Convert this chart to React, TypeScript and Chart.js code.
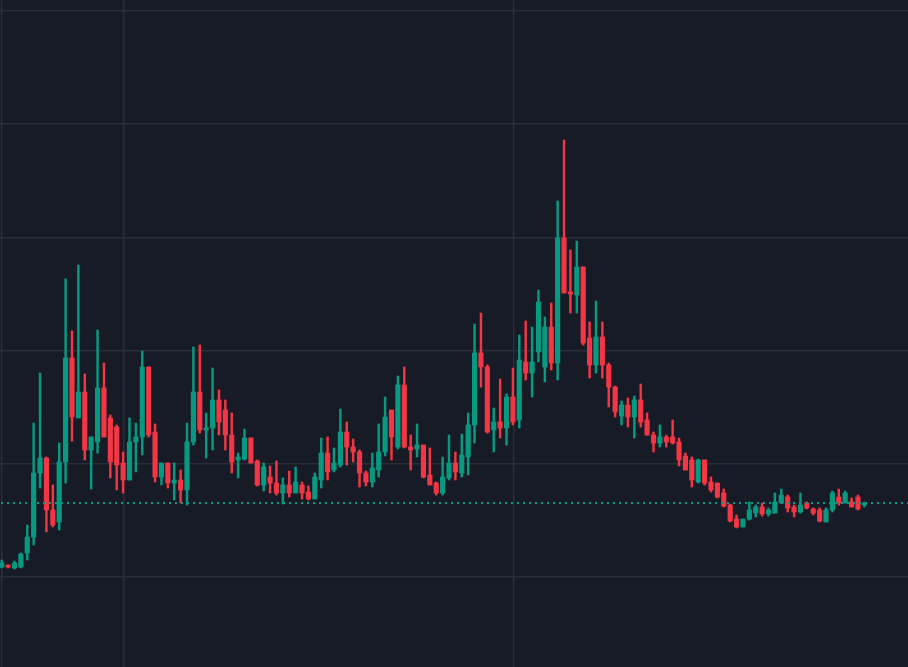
import { useEffect, useRef } from "react";
import { Chart, registerables } from "chart.js";

Chart.register(...registerables);

// OHLC series (price units; horizontal grid every 1.0)
const OPEN = [
  1.088, 1.106, 1.080, 1.088, 1.212, 1.353, 1.919, 2.051, 1.592, 1.486,
  2.016, 2.935, 2.405, 2.634, 2.122, 2.193, 2.670, 2.405, 2.325, 2.007,
  1.857, 2.193, 2.237, 2.855, 2.281, 1.883, 2.007, 1.830, 1.857, 1.769,
  2.193, 2.634, 2.299, 2.316, 2.564, 2.475, 2.254, 2.034, 2.042, 2.228,
  2.025, 1.813, 1.883, 1.830, 1.742, 1.813, 1.742, 1.813, 1.751, 1.689,
  1.857, 2.095, 1.945, 1.989, 2.281, 2.148, 2.104, 1.919, 1.839, 1.945,
  2.104, 2.475, 2.148, 2.696, 2.148, 2.131, 2.166, 1.901, 1.830, 1.742,
  1.875, 2.007, 1.919, 2.060, 2.343, 2.979, 2.855, 2.299, 2.369, 2.316,
  2.590, 2.387, 2.899, 2.802, 2.988, 2.855, 3.208, 2.890, 3.995, 3.518,
  3.491, 3.739, 3.111, 2.873, 3.120, 2.873, 2.678, 2.422, 2.519, 2.413,
  2.564, 2.387, 2.254, 2.184, 2.237, 2.237, 2.193, 2.069, 2.034, 1.839,
  2.034, 1.839, 1.830, 1.742, 1.636, 1.512, 1.442, 1.512, 1.565, 1.618,
  1.557, 1.565, 1.654, 1.707, 1.618, 1.574, 1.654, 1.601, 1.592, 1.486,
  1.592, 1.707, 1.654, 1.663, 1.707, 1.636,
];
const HIGH = [
  1.150, 1.106, 1.141, 1.212, 1.459, 2.360, 2.802, 2.060, 1.813, 2.184,
  3.633, 3.173, 3.756, 2.793, 2.237, 3.182, 2.890, 2.431, 2.343, 2.104,
  2.405, 2.360, 2.996, 2.855, 2.352, 2.007, 2.007, 2.007, 1.945, 2.360,
  3.032, 3.049, 2.449, 2.846, 2.652, 2.564, 2.449, 2.095, 2.307, 2.228,
  2.034, 2.007, 1.981, 2.025, 1.875, 1.936, 1.972, 1.839, 1.804, 1.919,
  2.228, 2.237, 2.140, 2.484, 2.369, 2.219, 2.122, 1.936, 2.095, 2.352,
  2.590, 2.475, 2.776, 2.855, 2.254, 2.352, 2.166, 2.140, 1.839, 2.060,
  2.254, 2.104, 2.263, 2.449, 3.235, 3.332, 2.873, 2.493, 2.749, 2.617,
  2.846, 3.138, 3.261, 3.208, 3.535, 3.297, 3.420, 4.322, 4.860, 3.889,
  3.968, 3.739, 3.253, 3.438, 3.253, 2.890, 2.687, 2.555, 2.581, 2.599,
  2.705, 2.449, 2.281, 2.343, 2.254, 2.387, 2.228, 2.095, 2.060, 2.042,
  2.034, 1.883, 1.830, 1.777, 1.645, 1.548, 1.512, 1.663, 1.636, 1.654,
  1.610, 1.742, 1.777, 1.724, 1.636, 1.742, 1.663, 1.610, 1.610, 1.610,
  1.760, 1.777, 1.760, 1.698, 1.724, 1.663,
];
const LOW = [
  1.080, 1.080, 1.071, 1.080, 1.150, 1.283, 1.786, 1.398, 1.442, 1.415,
  1.830, 2.201, 2.405, 2.034, 1.777, 2.095, 2.237, 1.875, 1.769, 1.742,
  1.857, 1.928, 2.078, 2.237, 1.839, 1.813, 1.786, 1.680, 1.654, 1.636,
  2.166, 2.272, 2.051, 2.122, 2.254, 2.122, 1.919, 1.875, 2.034, 2.007,
  1.804, 1.760, 1.742, 1.724, 1.645, 1.707, 1.742, 1.689, 1.680, 1.689,
  1.786, 1.857, 1.928, 1.972, 1.989, 2.016, 1.795, 1.804, 1.795, 1.883,
  2.069, 2.034, 2.131, 2.140, 1.945, 2.060, 1.875, 1.813, 1.724, 1.724,
  1.857, 1.857, 1.883, 1.901, 2.184, 2.678, 2.272, 2.104, 2.228, 2.166,
  2.343, 2.316, 2.740, 2.590, 2.899, 2.723, 2.829, 2.740, 3.509, 3.332,
  3.332, 3.049, 2.758, 2.802, 2.758, 2.502, 2.413, 2.343, 2.325, 2.228,
  2.325, 2.254, 2.104, 2.148, 2.148, 2.175, 1.981, 1.945, 1.795, 1.830,
  1.813, 1.751, 1.698, 1.618, 1.486, 1.433, 1.442, 1.504, 1.530, 1.539,
  1.539, 1.565, 1.654, 1.574, 1.530, 1.565, 1.601, 1.548, 1.486, 1.486,
  1.574, 1.636, 1.654, 1.618, 1.592, 1.618,
];
const CLOSE = [
  1.124, 1.088, 1.124, 1.203, 1.353, 1.919, 2.051, 1.592, 1.459, 2.016,
  2.935, 2.413, 2.634, 2.122, 2.237, 2.670, 2.237, 2.016, 1.989, 1.857,
  2.193, 2.237, 2.855, 2.254, 1.883, 2.007, 1.830, 1.857, 1.769, 2.193,
  2.634, 2.299, 2.316, 2.564, 2.369, 2.254, 2.016, 2.060, 2.228, 2.007,
  1.813, 1.972, 1.830, 1.742, 1.813, 1.742, 1.839, 1.742, 1.689, 1.883,
  2.095, 1.928, 2.007, 2.281, 2.148, 2.104, 1.919, 1.839, 1.963, 2.104,
  2.413, 2.237, 2.696, 2.148, 2.122, 2.166, 1.883, 1.813, 1.742, 1.883,
  2.007, 1.928, 2.078, 2.343, 2.979, 2.855, 2.281, 2.369, 2.316, 2.590,
  2.369, 2.917, 2.802, 2.899, 3.429, 3.208, 2.890, 3.995, 3.509, 3.500,
  3.739, 3.067, 2.873, 3.120, 2.873, 2.678, 2.458, 2.519, 2.413, 2.564,
  2.369, 2.254, 2.184, 2.237, 2.193, 2.184, 2.034, 1.945, 1.857, 2.034,
  1.830, 1.769, 1.707, 1.627, 1.495, 1.442, 1.512, 1.592, 1.618, 1.557,
  1.592, 1.663, 1.724, 1.610, 1.574, 1.636, 1.610, 1.565, 1.495, 1.592,
  1.742, 1.654, 1.742, 1.618, 1.601, 1.654,
];

// Axis ranges and grid positions
const X_MIN = -0.266;
const X_MAX = 141.83;
const X_GRID = [-0.03, 19.03, 80.14];
const Y_MIN = 0.205;
const Y_MAX = 6.097;
const Y_GRID = [1, 2, 3, 4, 5, 6];

const UP = "#089981";
const DOWN = "#f23645";
const BG = "#171b26";
const GRID = "#2a2e39";

const colorFor = (i: number) => (CLOSE[i] >= OPEN[i] ? UP : DOWN);

const lastPriceLine = {
  id: "lastPriceLine",
  afterDatasetsDraw(chart: any) {
    const { ctx, chartArea, scales } = chart;
    const last = CLOSE[CLOSE.length - 1];
    const y = Math.round(scales.y.getPixelForValue(last));
    ctx.save();
    ctx.strokeStyle = UP;
    ctx.lineWidth = 2;
    ctx.setLineDash([2, 4]);
    ctx.lineDashOffset = -1;
    ctx.beginPath();
    ctx.moveTo(chartArea.left, y);
    ctx.lineTo(chartArea.right, y);
    ctx.stroke();
    ctx.restore();
  },
};

export default function App() {
  const ref = useRef<HTMLCanvasElement | null>(null);

  useEffect(() => {
    if (!ref.current) return;
    const chart = new Chart(ref.current, {
      type: "bar",
      data: {
        datasets: [
          {
            label: "wick",
            data: HIGH.map((h, i) => ({ x: i, y: [LOW[i], h] })) as any,
            backgroundColor: (c: any) => colorFor(c.dataIndex),
            barThickness: 1.8,
            grouped: false,
            borderWidth: 0,
            minBarLength: 1,
            order: 2,
          } as any,
          {
            label: "body",
            data: OPEN.map((o, i) => ({ x: i, y: [o, CLOSE[i]] })) as any,
            backgroundColor: (c: any) => colorFor(c.dataIndex),
            barThickness: 4.5,
            grouped: false,
            borderWidth: 0,
            minBarLength: 1.5,
            order: 1,
          } as any,
        ],
      },
      options: {
        animation: false,
        responsive: true,
        maintainAspectRatio: false,
        layout: { padding: 0 },
        plugins: {
          legend: { display: false },
          tooltip: { enabled: false },
        },
        scales: {
          x: {
            type: "linear",
            min: X_MIN,
            max: X_MAX,
            bounds: "data",
            offset: false,
            ticks: { display: false },
            border: { display: false },
            grid: { color: GRID, lineWidth: 1.5, drawTicks: false, offset: false },
            afterBuildTicks: (scale: any) => {
              scale.ticks = X_GRID.map((v) => ({ value: v }));
            },
          },
          y: {
            type: "linear",
            min: Y_MIN,
            max: Y_MAX,
            bounds: "data",
            ticks: { display: false },
            border: { display: false },
            grid: { color: GRID, lineWidth: 1.5, drawTicks: false, offset: false },
            afterBuildTicks: (scale: any) => {
              scale.ticks = Y_GRID.map((v) => ({ value: v }));
            },
          },
        },
      } as any,
      plugins: [lastPriceLine],
    });
    return () => chart.destroy();
  }, []);

  return (
    <div
      style={{
        position: "fixed",
        left: 0,
        top: 0,
        width: 908,
        height: 667,
        background: BG,
      }}
    >
      <canvas ref={ref} />
    </div>
  );
}
